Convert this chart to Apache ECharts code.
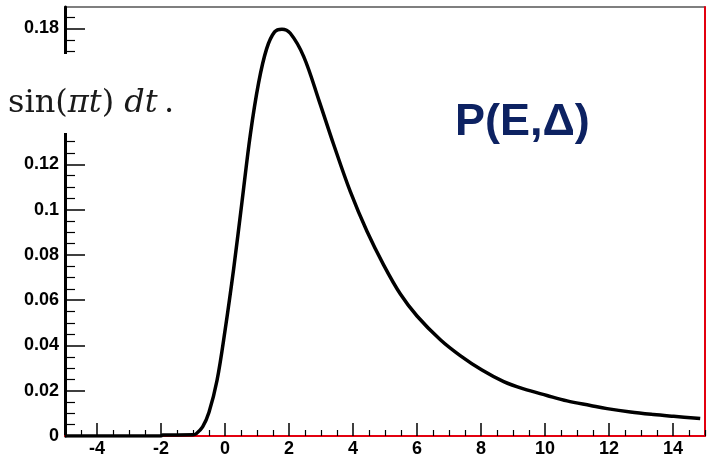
<!DOCTYPE html>
<html>
<head>
<meta charset="utf-8">
<script src="https://cdn.jsdelivr.net/npm/echarts@6/dist/echarts.min.js"></script>
<style>
  html, body { margin: 0; padding: 0; background: #fff; }
  #chart { width: 710px; height: 458px; }
</style>
</head>
<body>
<div id="chart"></div>
<script>
// curve
const xValues = [-5, -2, -1.95, -1.0, -0.9, -0.7, -0.5, -0.25, 0.0, 0.27, 0.53, 0.79, 1.05, 1.3, 1.55, 1.78, 2.04,
  2.46, 2.93, 3.39, 3.92, 4.44, 4.96, 5.48, 6.0, 6.73, 7.35, 8.03, 8.71, 9.33, 10.06, 10.69, 11.42,
  11.94, 12.67, 13.39, 14.02, 14.85];
const yValues = [0, 0, 0.0004, 0.0005, 0.001, 0.004, 0.0105, 0.0245, 0.0465, 0.0738, 0.1033, 0.1330, 0.1560, 0.1710, 0.1785, 0.1797, 0.1779,
  0.1676, 0.1485, 0.1290, 0.1078, 0.0903, 0.0755, 0.0627, 0.0530, 0.0425, 0.0355, 0.0291, 0.0240, 0.0208, 0.0179, 0.0155, 0.0135,
  0.0121, 0.0106, 0.0095, 0.0087, 0.0077];

const xTickLabels = [-4, -2, 0, 2, 4, 6, 8, 10, 12, 14];
const yTickLabels = [0, 0.02, 0.04, 0.06, 0.08, 0.1, 0.12, 0.14, 0.16, 0.18];

// minor ticks
const xMinor = [];
for (let i = -10; i <= 30; i++) if (i % 4 !== 0) xMinor.push(i / 2);
const yMinor = [];
for (let i = 1; i <= 37; i++) if (i % 4 !== 0) yMinor.push(i * 0.005);

const labelFont = { fontSize: 18, fontWeight: 'bold', color: '#000', fontFamily: 'Liberation Sans' };

const chart = echarts.init(document.getElementById('chart'));

chart.setOption({
  backgroundColor: '#fff',
  animation: false,
  grid: {
    left: 65, right: 5, top: 7, bottom: 20,
    show: true, borderColor: '#000', borderWidth: 1.2, backgroundColor: '#fff'
  },
  xAxis: [{
    type: 'value', min: -5, max: 15, position: 'bottom',
    axisLine: { show: true, onZero: false, lineStyle: { color: '#e3000f', width: 2 } },
    axisTick: { show: true, inside: true, length: 13, customValues: xTickLabels, lineStyle: { color: '#000', width: 1.5 } },
    axisLabel: Object.assign({ customValues: xTickLabels, margin: 4 }, labelFont),
    splitLine: { show: false }
  }, {
    type: 'value', min: -5, max: 15, position: 'bottom',
    axisLine: { show: false, onZero: false },
    axisTick: { show: true, inside: true, length: 6, customValues: xMinor, lineStyle: { color: '#000', width: 1.2 } },
    axisLabel: { show: false },
    splitLine: { show: false }
  }],
  yAxis: [{
    type: 'value', min: 0, max: 0.1895, position: 'left',
    axisLine: { show: true, onZero: false, lineStyle: { color: '#000', width: 3 } },
    axisTick: { show: true, inside: true, length: 20, customValues: yTickLabels, lineStyle: { color: '#000', width: 1.5 } },
    axisLabel: Object.assign({ customValues: yTickLabels, margin: 6 }, labelFont),
    splitLine: { show: false }
  }, {
    type: 'value', min: 0, max: 0.1895, position: 'left',
    axisLine: { show: false, onZero: false },
    axisTick: { show: true, inside: true, length: 10, customValues: yMinor, lineStyle: { color: '#000', width: 1.2 } },
    axisLabel: { show: false },
    splitLine: { show: false }
  }, {
    type: 'value', min: 0, max: 0.1895, position: 'right',
    axisLine: { show: true, onZero: false, lineStyle: { color: '#e3000f', width: 2 } },
    axisTick: { show: false },
    axisLabel: { show: false },
    splitLine: { show: false }
  }],
  series: [{
    type: 'line',
    xAxisIndex: 0,
    yAxisIndex: 0,
    data: xValues.map((x, i) => [x, yValues[i]]),
    showSymbol: false,
    smooth: 0.35,
    lineStyle: { color: '#000', width: 3.5 }
  }],
  graphic: [{
    type: 'rect',
    z: 100,
    shape: { x: 0, y: 54, width: 200, height: 79 },
    style: { fill: '#fff' }
  }, {
    type: 'text',
    z: 101,
    x: 8, y: 104,
    style: {
      text: '{r|sin(}{i|πt}{r|) }{i|dt}{r|\u2009.}',
      verticalAlign: 'middle',
      rich: {
        r: { fontFamily: 'DejaVu Serif', fontSize: 32, fill: '#1a1a1a' },
        i: { fontFamily: 'DejaVu Serif', fontSize: 32, fontStyle: 'italic', fill: '#1a1a1a' }
      }
    }
  }, {
    type: 'text',
    z: 101,
    x: 455, y: 123,
    style: {
      text: 'P(E,Δ)',
      font: 'bold 45px "Liberation Sans"',
      fill: '#0d2262',
      verticalAlign: 'middle'
    }
  }]
});
</script>
</body>
</html>
